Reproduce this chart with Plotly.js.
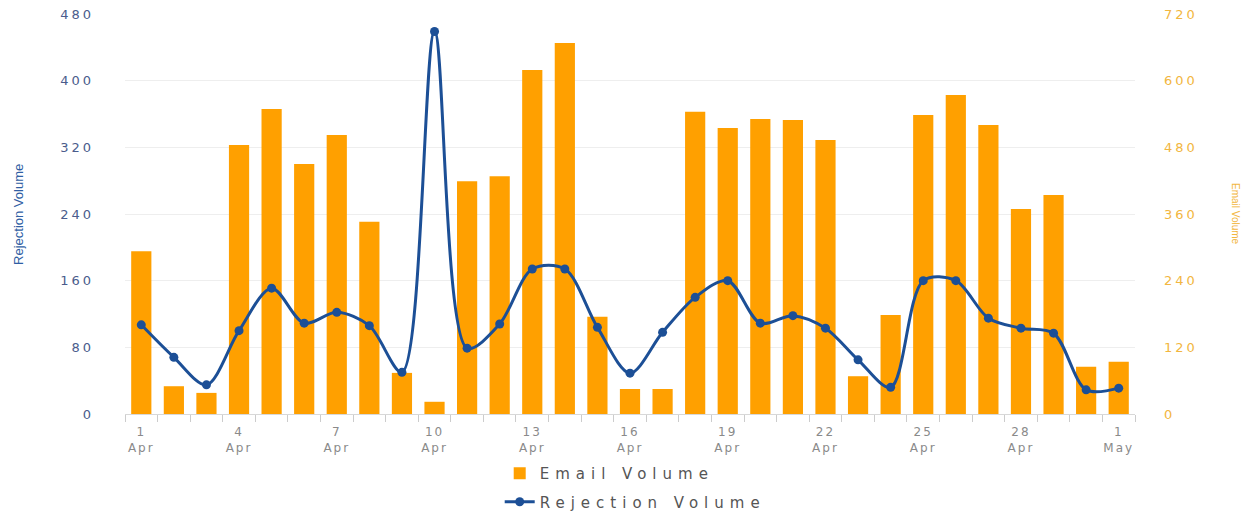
<!DOCTYPE html>
<html>
<head>
<meta charset="utf-8">
<script src="https://cdn.plot.ly/plotly-3.0.1.min.js"></script>
<style>
  html, body { margin: 0; padding: 0; background: #fff; }
  #chart { width: 1259px; height: 512px; }
  .ytick text, .y2tick text { letter-spacing: 3px; }
  .xtick text { letter-spacing: 2px; }
  .legendtext { letter-spacing: 6px; }
</style>
</head>
<body>
<div id="chart"></div>
<script>
const days = ['1 Apr','2 Apr','3 Apr','4 Apr','5 Apr','6 Apr','7 Apr','8 Apr','9 Apr','10 Apr',
  '11 Apr','12 Apr','13 Apr','14 Apr','15 Apr','16 Apr','17 Apr','18 Apr','19 Apr','20 Apr',
  '21 Apr','22 Apr','23 Apr','24 Apr','25 Apr','26 Apr','27 Apr','28 Apr','29 Apr','30 Apr','1 May'];

const emailVolume = [293, 50, 38, 484, 549, 450, 502, 346, 74, 22,
  419, 428, 619, 668, 175, 45, 45, 544, 515, 531,
  529, 493, 68, 178, 538, 574, 520, 369, 394, 85, 94];

const rejectionVolume = [107, 68, 35, 100, 151, 109, 122, 106, 50, 459,
  79, 108, 174, 174, 104, 49, 98, 140, 160, 109,
  118, 103, 65, 32, 160, 160, 115, 103, 97, 29, 31];

const tickDays = ['1 Apr','4 Apr','7 Apr','10 Apr','13 Apr','16 Apr','19 Apr','22 Apr','25 Apr','28 Apr','1 May'];
const tickLabels = ['1<br>Apr','4<br>Apr','7<br>Apr','10<br>Apr','13<br>Apr','16<br>Apr','19<br>Apr','22<br>Apr','25<br>Apr','28<br>Apr','1<br>May'];

const allTickText = days.map(d => {
  const i = tickDays.indexOf(d);
  return i >= 0 ? tickLabels[i] : '';
});

const barColor = '#ffa000';
const lineColor = '#1c4f96';

const traces = [
  {
    type: 'bar', name: 'Email Volume', x: days, y: emailVolume, yaxis: 'y',
    marker: { color: barColor }, legendgroup: 'a'
  },
  {
    type: 'scatter', mode: 'lines+markers', name: 'Rejection Volume', x: days, y: rejectionVolume,
    yaxis: 'y2', line: { color: lineColor, width: 3, shape: 'spline', smoothing: 0.9 },
    marker: { color: lineColor, size: 9 }, legendgroup: 'b'
  }
];

const layout = {
  width: 1259, height: 512,
  margin: { l: 125, r: 124, t: 14, b: 98, autoexpand: false },
  paper_bgcolor: '#ffffff', plot_bgcolor: '#ffffff',
  font: { family: 'DejaVu Sans, sans-serif' },
  bargap: 0.38,
  showlegend: true,
  legend: {
    orientation: 'v', x: 0.371, xanchor: 'left', y: -0.1075, yanchor: 'top',
    font: { size: 15, color: '#555555' }, tracegroupgap: 6, bgcolor: 'rgba(0,0,0,0)'
  },
  xaxis: {
    type: 'category', categoryorder: 'array', categoryarray: days,
    tickvals: days, ticktext: allTickText, tickson: 'boundaries',
    ticks: 'outside', ticklen: 7, tickcolor: '#cccccc', tickwidth: 1,
    showline: true, linecolor: '#d8d8d8', linewidth: 1, automargin: false,
    showgrid: false, zeroline: false, ticklabelstandoff: 7,
    tickfont: { size: 12, color: '#8a8a8a' }, tickangle: 0,
    range: [-0.5, 30.5]
  },
  yaxis: {
    range: [0, 720], tickvals: [0, 120, 240, 360, 480, 600, 720],
    side: 'right', showgrid: true, gridcolor: '#eeeeee', gridwidth: 1, zeroline: false,
    showline: false, ticks: '', ticklabelstandoff: 28, automargin: false,
    tickfont: { size: 13, color: '#f2b640' }
  },
  yaxis2: {
    range: [0, 480], tickvals: [0, 80, 160, 240, 320, 400, 480],
    overlaying: 'y', side: 'left', showgrid: false, zeroline: false,
    showline: false, ticks: '', ticklabelstandoff: 30, automargin: false,
    tickfont: { size: 13, color: '#4a5c8c' }
  },
  annotations: [
    {
      text: 'Rejection Volume', xref: 'paper', yref: 'paper',
      x: -0.106, y: 0.5, xanchor: 'center', yanchor: 'middle', textangle: -90, showarrow: false,
      font: { family: 'Liberation Sans Narrow, Liberation Sans, sans-serif', size: 13, color: '#2f5ea3' }
    },
    {
      text: 'Email Volume', xref: 'paper', yref: 'paper',
      x: 1.1, y: 0.5, xanchor: 'center', yanchor: 'middle', textangle: 90, showarrow: false,
      font: { family: 'Liberation Sans Narrow, Liberation Sans, sans-serif', size: 10, color: '#f2b640' }
    }
  ]
};

Plotly.newPlot('chart', traces, layout, { displayModeBar: false, staticPlot: true });
</script>
</body>
</html>
